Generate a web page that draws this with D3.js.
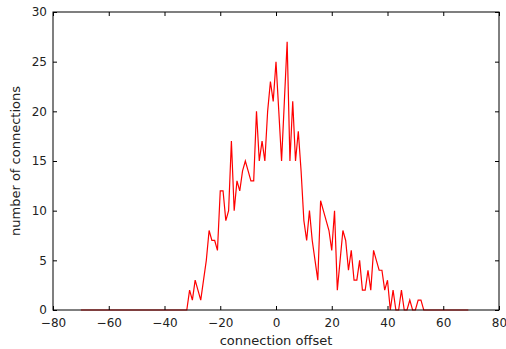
<!DOCTYPE html>
<html>
<head>
<meta charset="utf-8">
<script src="https://cdn.jsdelivr.net/npm/d3@7"></script>
<style>
  body { margin: 0; background: #fff; }
  text { font-family: "DejaVu Sans", sans-serif; }
</style>
</head>
<body>
<div id="chart"></div>
<script>
// connection offsets (x) and number of connections (y)
const offsets = [
  -70, -69, -68, -67, -66, -65, -64, -63, -62, -61, -60, -59, -58, -57, -56, -55, -54, -53, -52, -51,
  -50, -49, -48, -47, -46, -45, -44, -43, -42, -41, -40, -39, -38, -37, -36, -35, -34, -33, -32, -31,
  -30, -29, -28, -27, -26, -25, -24, -23, -22, -21, -20, -19, -18, -17, -16, -15, -14, -13, -12, -11,
  -10, -9, -8, -7, -6, -5, -4, -3, -2, -1, 0, 1, 2, 3, 4, 5, 6, 7, 8, 9,
  10, 11, 12, 13, 14, 15, 16, 17, 18, 19, 20, 21, 22, 23, 24, 25, 26, 27, 28, 29,
  30, 31, 32, 33, 34, 35, 36, 37, 38, 39, 40, 41, 42, 43, 44, 45, 46, 47, 48, 49,
  50, 51, 52, 53, 54, 55, 56, 57, 58, 59, 60, 61, 62, 63, 64, 65, 66, 67, 68, 69
];
const counts = [
  0, 0, 0, 0, 0, 0, 0, 0, 0, 0, 0, 0, 0, 0, 0, 0, 0, 0, 0, 0,
  0, 0, 0, 0, 0, 0, 0, 0, 0, 0, 0, 0, 0, 0, 0, 0, 0, 0, 0, 2,
  1, 3, 2, 1, 3, 5, 8, 7, 7, 6, 12, 12, 9, 10, 17, 10, 13, 12, 14, 15,
  14, 13, 13, 20, 15, 17, 15, 20, 23, 21, 25, 20, 15, 21, 27, 15, 21, 15, 18, 14,
  9, 7, 10, 7, 5, 3, 11, 10, 9, 8, 6, 10, 2, 5, 8, 7, 4, 6, 3, 3,
  5, 2, 2, 4, 2, 6, 5, 4, 4, 2, 3, 0, 2, 0, 0, 2, 0, 0, 1, 0,
  0, 1, 1, 0, 0, 0, 0, 0, 0, 0, 0, 0, 0, 0, 0, 0, 0, 0, 0, 0
];
const xTicks = [-80, -60, -40, -20, 0, 20, 40, 60, 80];
const yTicks = [0, 5, 10, 15, 20, 25, 30];

const width = 506;
const height = 349;
const margin = { top: 12, right: 7, bottom: 39, left: 53 };
const innerW = width - margin.left - margin.right;
const innerH = height - margin.top - margin.bottom;

const data = offsets.map((o, i) => ({ x: o, y: counts[i] }));

const svg = d3.select("#chart").append("svg")
    .attr("width", width)
    .attr("height", height);

const g = svg.append("g")
    .attr("transform", `translate(${margin.left},${margin.top})`);

const x = d3.scaleLinear().domain([-80, 80]).range([0, innerW]);
const y = d3.scaleLinear().domain([0, 30]).range([innerH, 0]);

const fmt = d => (d < 0 ? "\u2212" + Math.abs(d) : "" + d);

// data line
g.append("path")
    .datum(data)
    .attr("fill", "none")
    .attr("stroke", "#ff0000")
    .attr("stroke-width", 1.2)
    .attr("d", d3.line().x(d => x(d.x)).y(d => y(d.y)));

// axes, ticks pointing inward on all four sides
g.append("g")
    .attr("transform", `translate(0,${innerH})`)
    .call(d3.axisBottom(x).tickValues(xTicks).tickFormat(fmt).tickSize(-4).tickPadding(8).tickSizeOuter(0));
g.append("g")
    .call(d3.axisLeft(y).tickValues(yTicks).tickFormat(fmt).tickSize(-4).tickPadding(6).tickSizeOuter(0));
g.append("g")
    .call(d3.axisTop(x).tickValues(xTicks).tickFormat("").tickSize(-4).tickSizeOuter(0));
g.append("g")
    .attr("transform", `translate(${innerW},0)`)
    .call(d3.axisRight(y).tickValues(yTicks).tickFormat("").tickSize(-4).tickSizeOuter(0));

g.selectAll(".domain").remove();
g.selectAll(".tick line").attr("stroke", "#000").attr("stroke-width", 1);
g.selectAll(".tick text")
    .attr("fill", "#222")
    .style("font-size", "12px")
    .style("font-family", "'DejaVu Sans', sans-serif");

// frame
g.append("rect")
    .attr("x", 0)
    .attr("y", 0)
    .attr("width", innerW)
    .attr("height", innerH)
    .attr("fill", "none")
    .attr("stroke", "#000")
    .attr("stroke-width", 1);

// axis titles
svg.append("text")
    .attr("x", margin.left + innerW / 2)
    .attr("y", 345)
    .attr("text-anchor", "middle")
    .attr("fill", "#222")
    .style("font-size", "13px")
    .text("connection offset");

svg.append("text")
    .attr("transform", `translate(20,${margin.top + innerH / 2}) rotate(-90)`)
    .attr("text-anchor", "middle")
    .attr("fill", "#222")
    .style("font-size", "13px")
    .text("number of connections");
</script>
</body>
</html>
